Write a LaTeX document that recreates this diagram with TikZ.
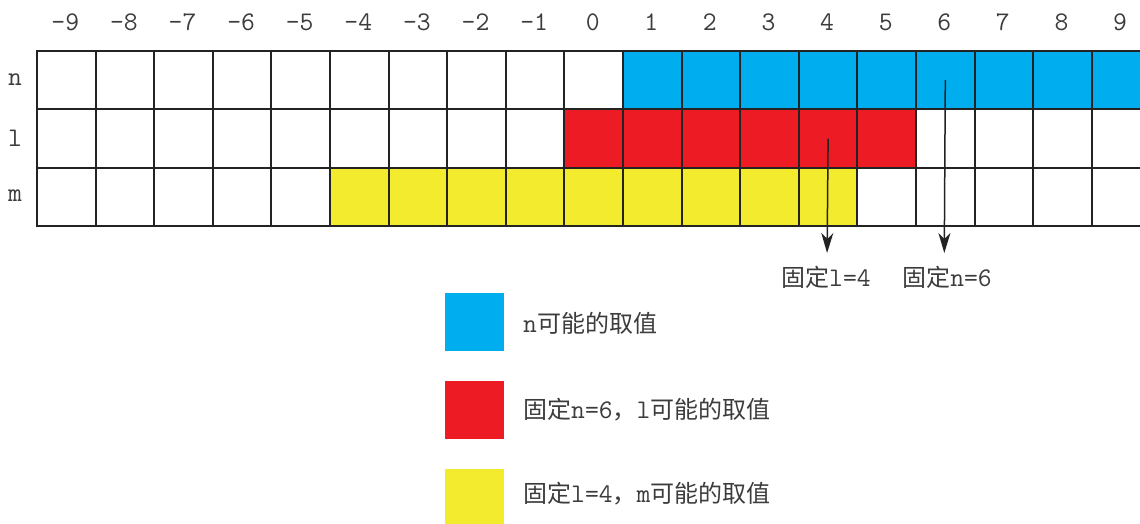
\documentclass[tikz,border=0pt]{standalone}
\usepackage{fontspec}
\setmonofont{Latin Modern Mono}[Scale=1.12]
\newfontfamily\cjk{Noto Sans CJK SC}
\usetikzlibrary{arrows.meta}
\definecolor{cblue}{HTML}{00AEEF}
\definecolor{cred}{HTML}{ED1C24}
\definecolor{cyel}{HTML}{F2EB2E}
\definecolor{txt}{HTML}{3C3C3C}
\definecolor{gridc}{HTML}{232323}
\begin{document}
\begin{tikzpicture}[x=1pt,y=-1pt,
  every node/.style={font=\ttfamily\fontsize{24}{26}\selectfont, text=txt},
  cell/.style={draw=gridc, line width=2pt, minimum width=58.6pt, minimum height=58.4pt, inner sep=0pt, anchor=north west},
  legbox/.style={minimum width=59pt, minimum height=58pt, inner sep=0pt, anchor=north west},
  legtext/.style={anchor=west, inner sep=0pt},
  ptr/.style={draw=gridc, line width=1.5pt, -{Stealth[length=20pt,width=12pt,inset=6pt]}}]
\useasboundingbox (0,0) rectangle (1140,523);
\clip (0,0) rectangle (1140,523);
% column labels
\foreach \i in {0,...,18}{
  \pgfmathtruncatemacro\v{\i-9}
  \node (h\i) at ({36+58.6*\i+29.3},22) {\v};
}
% row labels
\node (rn) at (15,80) {n};
\node (rl) at (15,138) {l};
\node (rm) at (15,196) {m};
% row n
\foreach \i in {0,...,18}{
  \ifnum\i>9 \def\fc{cblue}\else\def\fc{white}\fi
  \node[cell,fill=\fc] (n\i) at ({36+58.6*\i},50) {};
}
% row l
\foreach \i in {0,...,18}{
  \def\fc{white}
  \ifnum\i>8 \ifnum\i<15 \def\fc{cred}\fi\fi
  \node[cell,fill=\fc] (l\i) at ({36+58.6*\i},108.4) {};
}
% row m
\foreach \i in {0,...,18}{
  \def\fc{white}
  \ifnum\i>4 \ifnum\i<14 \def\fc{cyel}\fi\fi
  \node[cell,fill=\fc] (m\i) at ({36+58.6*\i},166.8) {};
}
% pointers
\coordinate (tl4) at (827.1,253);
\coordinate (tn6) at (944.3,253);
\draw[ptr] (l13.center) -- (tl4);
\draw[ptr] (n15.center) -- (tn6);
\node (fl4) at (826,277) {{\cjk 固定}l=4};
\node (fn6) at (947,277) {{\cjk 固定}n=6};
% legend
\node[legbox,fill=cblue] (kb) at (445,293) {};
\node[legbox,fill=cred] (kr) at (445,381) {};
\node[legbox,fill=cyel] (ky) at (445,469) {};
\node[legtext] (tb) at (523,323) {n{\cjk 可能的取值}};
\node[legtext] (tr) at (523,410) {{\cjk 固定}n=6{\cjk ，}l{\cjk 可能的取值}};
\node[legtext] (ty) at (523,494) {{\cjk 固定}l=4{\cjk ，}m{\cjk 可能的取值}};
\end{tikzpicture}
\end{document}
